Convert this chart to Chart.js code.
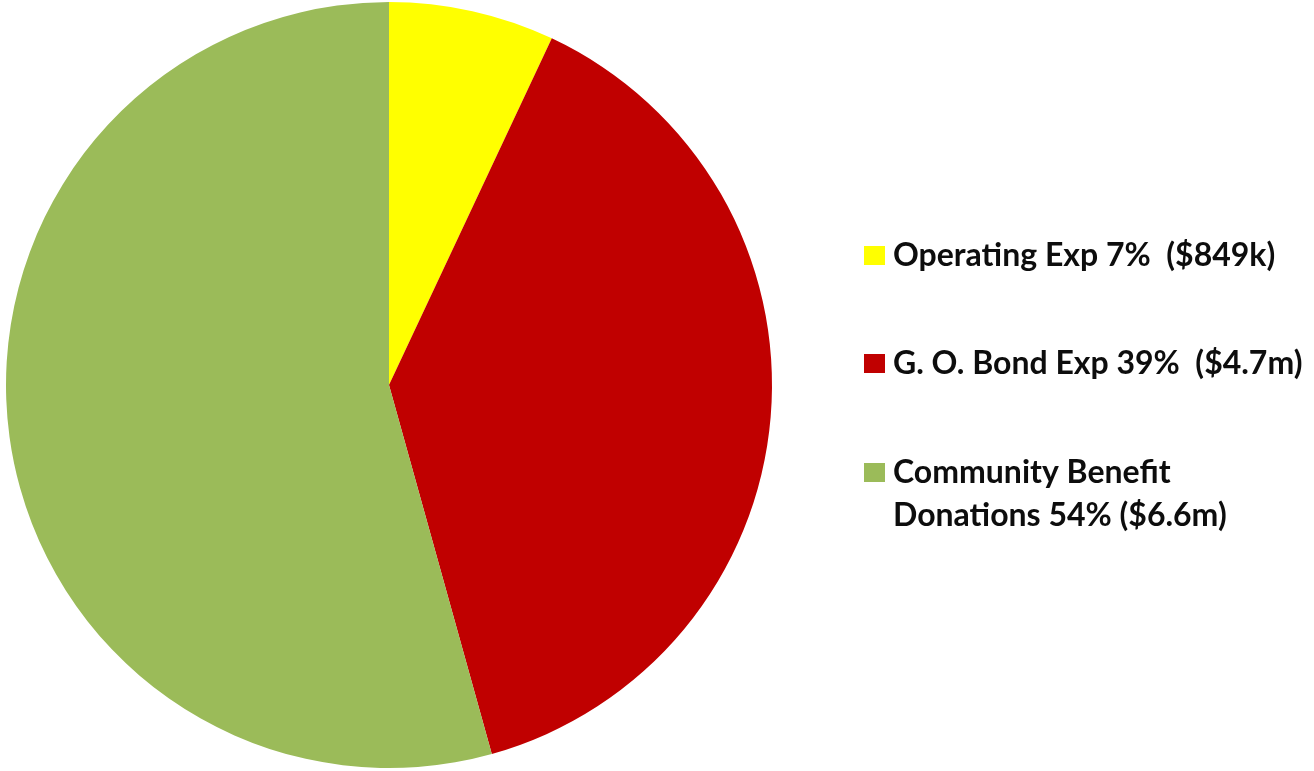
<!DOCTYPE html>
<html lang="en">
<head>
    <meta charset="UTF-8">
    <title>Expenditures</title>
    <script src="https://cdn.jsdelivr.net/npm/chart.js"></script>
    <style>
        html, body { margin: 0; padding: 0; background: #fff; }
        #wrap { width: 1314px; height: 771px; }
    </style>
</head>
<body>
    <div id="wrap"><canvas id="pieChart" width="1314" height="771"></canvas></div>
    <script>
        // spending by category, $ millions
        const categories = [
            ['Operating Exp 7%  ($849k)'],
            ['G. O. Bond Exp 39%  ($4.7m)'],
            ['Community Benefit', 'Donations 54% ($6.6m)']
        ];
        const amounts = [0.849, 4.7, 6.6];
        const sliceColors = ['#ffff00', '#c00000', '#9bbb59'];

        // legend drawn on the right side of the canvas
        const sideLegend = {
            id: 'sideLegend',
            afterDraw(chart) {
                const ctx = chart.ctx;
                const labels = chart.data.labels;
                const colors = chart.data.datasets[0].backgroundColor;
                const baselines = [266, 374, 483];
                const lineGap = 43;
                ctx.save();
                ctx.font = 'bold 32px Lato, "Open Sans", sans-serif';
                ctx.textBaseline = 'alphabetic';
                labels.forEach((lines, i) => {
                    const y = baselines[i];
                    ctx.fillStyle = colors[i];
                    ctx.fillRect(864, y - 20, 21, 19);
                    ctx.fillStyle = '#0d0d0d';
                    lines.forEach((line, j) => {
                        ctx.fillText(line, 893, y + j * lineGap);
                    });
                });
                ctx.restore();
            }
        };

        new Chart(document.getElementById('pieChart').getContext('2d'), {
            type: 'pie',
            data: {
                labels: categories,
                datasets: [{
                    data: amounts,
                    backgroundColor: sliceColors,
                    borderWidth: 0
                }]
            },
            options: {
                responsive: false,
                animation: false,
                layout: {
                    padding: { left: 6, top: 2, right: 542, bottom: 3 }
                },
                plugins: {
                    legend: { display: false },
                    tooltip: { enabled: false }
                }
            },
            plugins: [sideLegend]
        });
    </script>
</body>
</html>
